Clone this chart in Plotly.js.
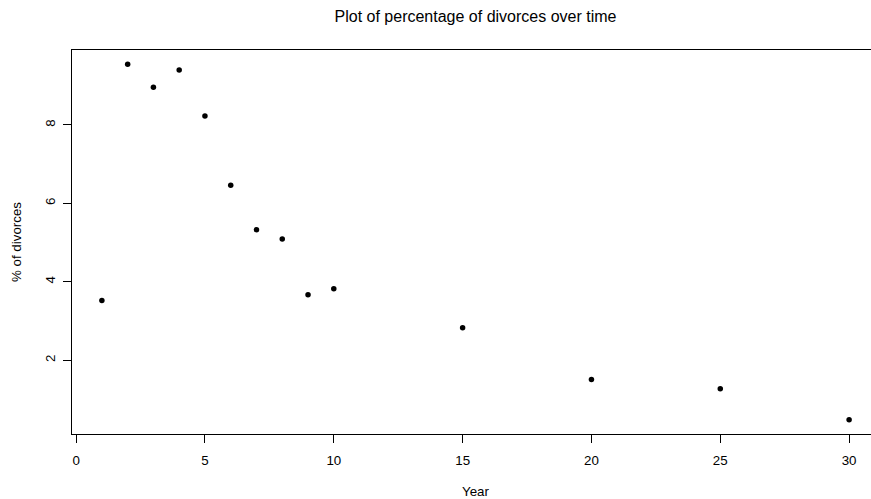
<!DOCTYPE html>
<html>
<head>
<meta charset="utf-8">
<script src="https://cdn.plot.ly/plotly-3.0.1.min.js"></script>
<style>
html, body { margin: 0; padding: 0; overflow: hidden; background: #fff; }
#chart { width: 880px; height: 499px; }
</style>
</head>
<body>
<div id="chart"></div>
<script>
const years = [1, 2, 3, 4, 5, 6, 7, 8, 9, 10, 15, 20, 25, 30];
const pctDivorces = [3.52, 9.55, 8.96, 9.40, 8.23, 6.46, 5.33, 5.09, 3.67, 3.82, 2.83, 1.51, 1.27, 0.48];
const xTicks = [0, 5, 10, 15, 20, 25, 30];
const yTicks = [2, 4, 6, 8];

const titleText = 'Plot of percentage of divorces over time';
const xTitle = 'Year';
const yTitle = '% of divorces';

const fontFam = '"Liberation Sans", Arial, Helvetica, sans-serif';

const trace = {
  x: years,
  y: pctDivorces,
  type: 'scatter',
  mode: 'markers',
  marker: { color: '#000', size: 5.5 },
  hoverinfo: 'x+y'
};

const layout = {
  width: 880,
  height: 499,
  autosize: false,
  margin: { l: 72, r: 1, t: 50, b: 65, pad: 0 },
  paper_bgcolor: '#fff',
  plot_bgcolor: '#fff',
  showlegend: false,
  font: { family: fontFam, size: 13.33, color: '#000' },
  title: {
    text: titleText,
    font: { family: fontFam, size: 16, color: '#000' },
    x: 0.5, xref: 'paper', xanchor: 'center',
    y: 1 - 16 / 499, yref: 'container', yanchor: 'middle'
  },
  xaxis: {
    range: [-0.16, 31.16],
    tickvals: xTicks,
    ticktext: xTicks.map(String),
    ticks: 'outside', ticklen: 8, tickwidth: 1, tickcolor: '#000',
    ticklabelstandoff: 6,
    showline: true, linecolor: '#000', linewidth: 1, mirror: true,
    showgrid: false, zeroline: false,
    tickfont: { family: fontFam, size: 13.33, color: '#000' },
    title: { text: xTitle, font: { family: fontFam, size: 13.33, color: '#000' }, standoff: 20 },
    automargin: false, fixedrange: true
  },
  yaxis: {
    range: [0.117, 9.913],
    tickvals: yTicks,
    ticktext: yTicks.map(String),
    tickangle: -90,
    ticks: 'outside', ticklen: 8, tickwidth: 1, tickcolor: '#000',
    ticklabelstandoff: 3,
    showline: true, linecolor: '#000', linewidth: 1, mirror: true,
    showgrid: false, zeroline: false,
    tickfont: { family: fontFam, size: 13.33, color: '#000' },
    title: { text: yTitle, font: { family: fontFam, size: 13.33, color: '#000' }, standoff: 18 },
    automargin: false, fixedrange: true
  }
};

Plotly.newPlot('chart', [trace], layout, { displayModeBar: false, staticPlot: true });
</script>
</body>
</html>
